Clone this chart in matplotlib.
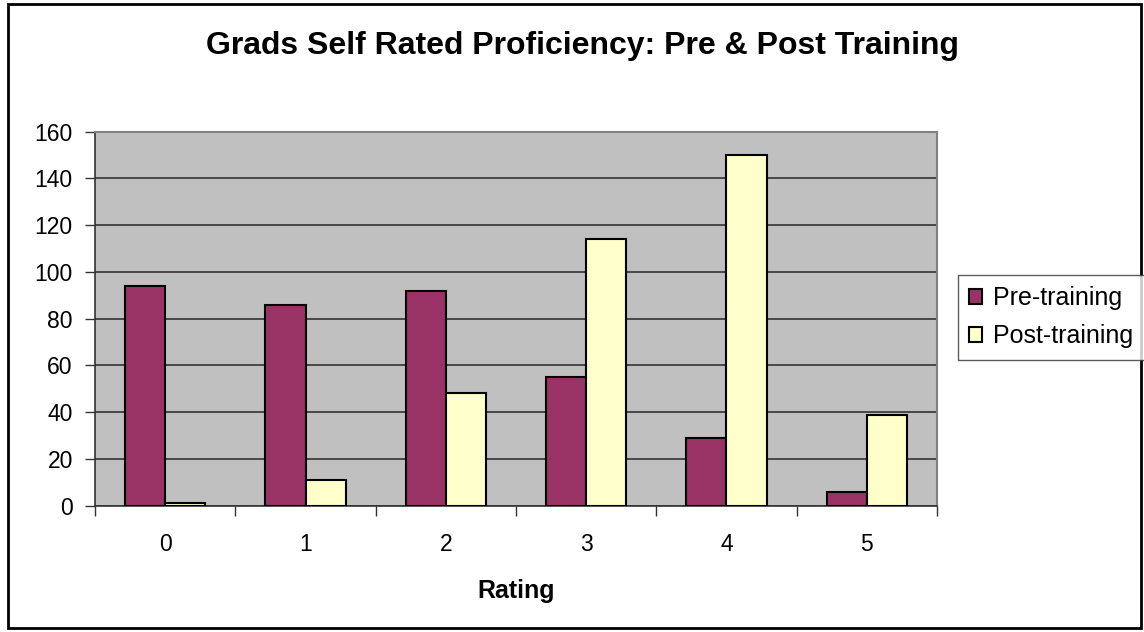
import matplotlib
matplotlib.use("Agg")
import matplotlib.pyplot as plt
import numpy as np
from matplotlib.patches import Rectangle

categories = ["0", "1", "2", "3", "4", "5"]
pre_training = [94, 86, 92, 55, 29, 6]
post_training = [1, 11, 48, 114, 150, 39]
y_ticks = [0, 20, 40, 60, 80, 100, 120, 140, 160]

plt.rcParams['font.family'] = ['Liberation Sans', 'DejaVu Sans']

fig = plt.figure(figsize=(11.44, 6.32), dpi=100)
W, H = 1144, 632
ax = fig.add_axes([95 / W, 1 - 505.7 / H, (937 - 95) / W, (505.7 - 131.7) / H])

x = np.arange(len(categories))
bw = 40 / 140
ax.bar(x - bw / 2, pre_training, width=bw, color="#993366", edgecolor="black",
       linewidth=1.5, label="Pre-training", zorder=3)
ax.bar(x + bw / 2, post_training, width=bw, color="#FFFFCC", edgecolor="black",
       linewidth=1.5, label="Post-training", zorder=3)

ax.set_facecolor("#C0C0C0")
ax.set_xlim(-0.5, len(categories) - 0.5)
ax.set_ylim(0, 160)
ax.set_yticks(y_ticks)
ax.set_yticklabels([str(v) for v in y_ticks], fontsize=16.5)
ax.yaxis.grid(True, color="#333333", linewidth=1.2, zorder=1)
ax.set_axisbelow(True)

ax.set_xticks(x)
ax.set_xticklabels(categories, fontsize=16.5)
ax.tick_params(axis="x", length=0, pad=20)
ax.set_xticks(np.arange(-0.5, len(categories)), minor=True)
ax.tick_params(axis="x", which="minor", length=7, width=1, color="#333333", direction="out")
ax.tick_params(axis="y", length=7, width=1, color="#333333", direction="out", pad=9)

for s in ["top", "right"]:
    ax.spines[s].set_color("#808080")
    ax.spines[s].set_linewidth(1.5)
for s in ["left", "bottom"]:
    ax.spines[s].set_color("#333333")
    ax.spines[s].set_linewidth(1.2)

ax.set_xlabel("Rating", fontsize=18, fontweight="bold", labelpad=16)

fig.text(582 / W, 1 - 46 / H, "Grads Self Rated Proficiency: Pre & Post Training",
         ha="center", va="center", fontsize=23, fontweight="bold")

leg = fig.legend(loc="upper left", bbox_to_anchor=(958 / W, 1 - 275 / H),
                 fontsize=18, frameon=True, fancybox=False, edgecolor="#333333",
                 handlelength=0.52, handleheight=0.52, handletextpad=0.44,
                 borderpad=0.45, labelspacing=0.56, borderaxespad=0)
leg.get_frame().set_linewidth(1.0)

fig.patches.append(Rectangle((8 / W, 4 / H), 1 - 11 / W, 1 - 8 / H,
                             transform=fig.transFigure, fill=False,
                             edgecolor="black", linewidth=2))

fig.savefig("out.png", dpi=100)
